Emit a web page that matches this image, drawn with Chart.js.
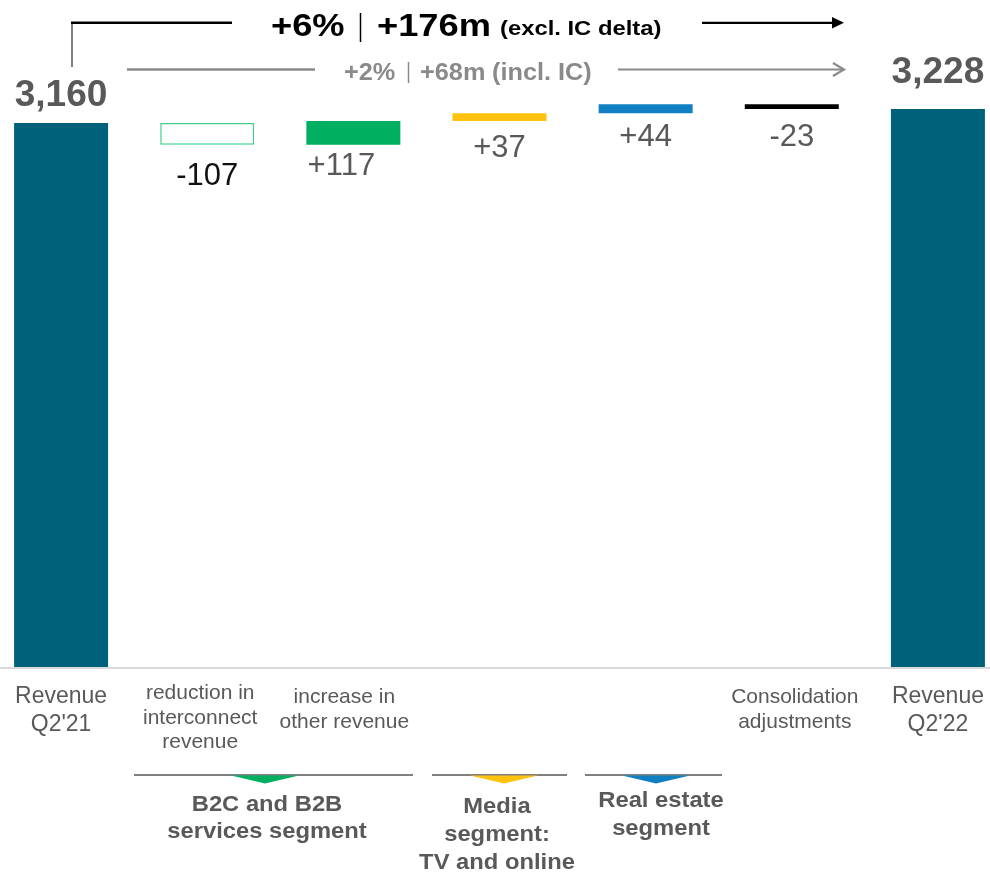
<!DOCTYPE html>
<html>
<head>
<meta charset="utf-8">
<title>Revenue bridge Q2'21 to Q2'22</title>
<script src="https://cdn.jsdelivr.net/npm/chart.js@4/dist/chart.umd.min.js"></script>
<style>
  html, body { margin: 0; padding: 0; background: #ffffff; overflow: hidden; }
  #wrap { position: relative; width: 990px; height: 874px; overflow: hidden; }
  #bridge { position: absolute; left: -12px; top: 0; }
</style>
</head>
<body>
<div id="wrap"><canvas id="bridge" width="1023" height="874"></canvas></div>
<script>
// ---- data ----
const categories = [
  ["Revenue", "Q2'21"],
  ["reduction in", "interconnect", "revenue"],
  ["increase in", "other revenue"],
  [],
  [],
  ["Consolidation", "adjustments"],
  ["Revenue", "Q2'22"]
];
const startRevenue = 3160;
const deltas = [-107, 117, 37, 44, -23];
const endRevenue = 3228;
const valueLabels = ["3,160", "-107", "+117", "+37", "+44", "-23", "3,228"];
const segmentNames = [
  ["B2C and B2B", "services segment"],
  ["Media", "segment:", "TV and online"],
  ["Real estate", "segment"]
];
const headlineExcl = ["+6%", "+176m", "(excl. IC delta)"];
const headlineIncl = ["+2%", "+68m", "(incl. IC)"];

// ---- styling ----
const SHIFT = 12;                 // canvas sits 12px left of the page edge
const FONT = '"Liberation Sans", Arial, Helvetica, sans-serif';
const GREY_TEXT = '#595959';
const TOTAL = '#00627a';
const barFill   = [TOTAL, '#ffffff', '#00b060', '#ffc20e', '#1080c2', '#000000', TOTAL];
const barBorder = [TOTAL, '#3ccf8c', '#00b060', '#ffc20e', '#1080c2', '#000000', TOTAL];
const barBorderW = [0, 1.5, 0, 0, 0, 0, 0];
const segmentColors = ['#00b060', '#ffc20e', '#1080c2'];
const axisMin = 500, axisMax = 3761;

// floating bars: totals rise from the axis floor, steps float between running sums
const barData = [startRevenue];
let running = startRevenue;
deltas.forEach(d => { barData.push([running, running + d]); running += d; });
barData.push(endRevenue);

function txt(ctx, s, x, y, size, color, opts = {}) {
  ctx.save();
  ctx.font = (opts.bold ? 'bold ' : '') + size + 'px ' + FONT;
  ctx.fillStyle = color;
  ctx.textAlign = opts.align || 'center';
  ctx.textBaseline = 'alphabetic';
  ctx.translate(x, y);
  ctx.scale(opts.sx || 1, 1);
  ctx.fillText(s, 0, 0);
  const w = ctx.measureText(s).width * (opts.sx || 1);
  ctx.restore();
  return w;
}
function line(ctx, x1, y1, x2, y2, color, w) {
  ctx.save();
  ctx.strokeStyle = color; ctx.lineWidth = w; ctx.lineCap = 'butt';
  ctx.beginPath(); ctx.moveTo(x1, y1); ctx.lineTo(x2, y2); ctx.stroke();
  ctx.restore();
}

const bridgeLabels = {
  id: 'bridgeLabels',
  beforeDatasetsDraw(chart) {
    const ctx = chart.ctx;
    const a = chart.chartArea;
    // baseline under the bars
    line(ctx, 0, a.bottom + 1, chart.width, a.bottom + 1, '#d9d9d9', 2);
  },
  afterDatasetsDraw(chart) {
    const ctx = chart.ctx;
    const x = chart.scales.x, y = chart.scales.y;
    const lift = { 0: 17, 6: 26 };
    const drop = [0, 40, 30, 36, 33, 37, 0];
    const nudge = [0, 0, -12, 0, 0, 0, 0];

    // value labels
    barData.forEach((v, i) => {
      const cx = x.getPixelForValue(i);
      if (!Array.isArray(v)) {
        txt(ctx, valueLabels[i], cx, y.getPixelForValue(v) - lift[i], 36, GREY_TEXT, { bold: true, sx: 1.03 });
      } else {
        const low = Math.max(y.getPixelForValue(v[0]), y.getPixelForValue(v[1]));
        txt(ctx, valueLabels[i], cx + nudge[i], low + drop[i], 31, i === 1 ? '#111111' : GREY_TEXT);
      }
    });

    // category labels
    const catNudge = [0, -7, -9, 0, 0, 3, 0];
    categories.forEach((lines, i) => {
      const cx = x.getPixelForValue(i) + catNudge[i];
      const big = (i === 0 || i === categories.length - 1);
      const size = big ? 23 : 21;
      const first = big ? 703 : (lines.length === 3 ? 699 : 703);
      const step = big ? 28 : 24.5;
      lines.forEach((s, k) => txt(ctx, s, cx, first + k * step, size, GREY_TEXT));
    });

    // page-coordinate decorations
    ctx.save();
    ctx.translate(SHIFT, 0);

    // segment brackets
    const bracketX = [[134, 413], [432, 567], [585, 722]];
    const triX = [265, 504, 656];
    const nameX = [267, 497, 661];
    const nameY = [[811, 838], [813, 841, 869], [807, 835]];
    segmentNames.forEach((names, s) => {
      line(ctx, bracketX[s][0], 775, bracketX[s][1], 775, '#808080', 2);
      ctx.fillStyle = segmentColors[s];
      ctx.beginPath();
      ctx.moveTo(triX[s] - 34, 775.5);
      ctx.lineTo(triX[s] + 34, 775.5);
      ctx.lineTo(triX[s], 783.5);
      ctx.closePath(); ctx.fill();
      names.forEach((n, k) => txt(ctx, n, nameX[s], nameY[s][k], 22, GREY_TEXT, { bold: true, sx: 1.08 }));
    });

    // headline: change excluding interconnect
    line(ctx, 72, 22, 72, 67, '#808080', 2);
    line(ctx, 71, 22.8, 232, 22.8, '#000000', 2.4);
    txt(ctx, headlineExcl[0], 271, 35.5, 31, '#000000', { bold: true, align: 'left', sx: 1.17 });
    line(ctx, 360.5, 13, 360.5, 42, '#000000', 1.5);
    txt(ctx, headlineExcl[1], 377, 35.5, 31, '#000000', { bold: true, align: 'left', sx: 1.17 });
    txt(ctx, headlineExcl[2], 500, 35, 20, '#000000', { bold: true, align: 'left', sx: 1.19 });
    line(ctx, 702, 22.8, 836, 22.8, '#000000', 2.2);
    ctx.fillStyle = '#000000';
    ctx.beginPath(); ctx.moveTo(844, 22.8); ctx.lineTo(832, 17); ctx.lineTo(832, 28.6); ctx.closePath(); ctx.fill();

    // sub-headline: change including interconnect
    const g = '#8a8a8a';
    line(ctx, 127, 69.5, 315, 69.5, g, 2.3);
    txt(ctx, headlineIncl[0], 344, 79.5, 23, g, { bold: true, align: 'left', sx: 1.1 });
    line(ctx, 408.5, 62, 408.5, 83, g, 1.5);
    txt(ctx, headlineIncl[1], 420, 79.5, 23, g, { bold: true, align: 'left', sx: 1.1 });
    txt(ctx, headlineIncl[2], 492, 79.5, 23, g, { bold: true, align: 'left', sx: 1.1 });
    line(ctx, 618, 69.5, 842, 69.5, g, 2.2);
    ctx.strokeStyle = g; ctx.lineWidth = 2.2;
    ctx.beginPath(); ctx.moveTo(833, 63); ctx.lineTo(844, 69.5); ctx.lineTo(833, 76); ctx.stroke();

    ctx.restore();
  }
};

new Chart(document.getElementById('bridge'), {
  type: 'bar',
  data: {
    labels: categories.map(c => c.join(' ')),
    datasets: [{
      data: barData,
      base: axisMin,
      backgroundColor: barFill,
      borderColor: barBorder,
      borderWidth: barBorderW,
      borderSkipped: false,
      categoryPercentage: 1,
      barPercentage: 94 / 146.14
    }]
  },
  options: {
    responsive: false,
    animation: false,
    devicePixelRatio: 1,
    layout: { padding: { top: 0, left: 0, right: 0, bottom: 207 } },
    plugins: { legend: { display: false }, tooltip: { enabled: false } },
    scales: {
      x: { display: false, offset: true },
      y: { display: false, min: axisMin, max: axisMax }
    }
  },
  plugins: [bridgeLabels]
});
</script>
</body>
</html>
